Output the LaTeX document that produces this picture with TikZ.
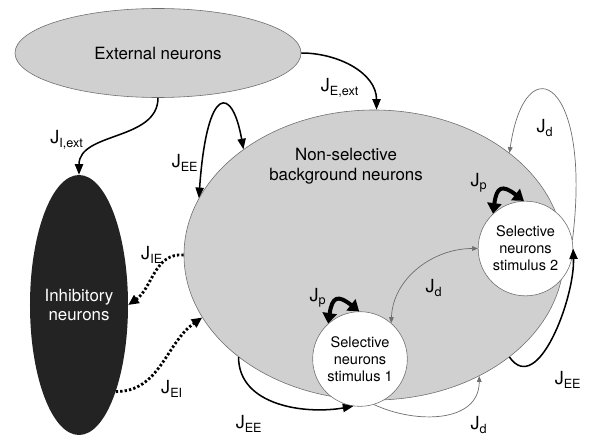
\documentclass[tikz,border=0pt]{standalone}
\usepackage{fontspec}
\setmainfont{TeX Gyre Heros}
\usetikzlibrary{shapes.geometric,arrows.meta}
\definecolor{cellgray}{RGB}{208,208,208}
\definecolor{rimgray}{RGB}{110,110,110}
\definecolor{inhblack}{RGB}{35,35,35}
\newcommand{\J}[1]{J\textsubscript{#1}}

\begin{document}
\begin{tikzpicture}[x=0.03cm, y=0.03cm,
  pop/.style={ellipse, draw=rimgray, fill=cellgray, inner sep=0pt, line width=0.5pt, align=center, font=\fontsize{14.4}{16.5}\selectfont},
  sel/.style={circle, draw=rimgray, fill=white, inner sep=0pt, minimum size=2.84cm, line width=0.5pt, align=center, font=\fontsize{12.4}{14.5}\selectfont},
  link/.style={line width=1.3pt, -{Triangle[length=9pt,width=7pt]}},
  weak/.style={draw=rimgray, line width=0.6pt, -{Triangle[length=5pt,width=4pt]}},
  dots/.style={line width=2.4pt, dash pattern=on 2pt off 1.8pt, -{Triangle[length=9pt,width=8pt]}},
  self/.style={line width=3.4pt, {Triangle[length=9pt,width=12pt]}-{Triangle[length=9pt,width=12pt]}},
  lbl/.style={font=\fontsize{15.4}{17}\selectfont}]
\useasboundingbox (0,0) rectangle (594,435);

% populations
\node[pop, minimum width=8.58cm, minimum height=2.67cm] (ext) at (158,382) {External neurons};
\node[ellipse, fill=inhblack, inner sep=0pt, minimum width=2.94cm, minimum height=7.8cm, align=center,
      text=white, font=\fontsize{14.4}{16.5}\selectfont] (inh) at (79,130) {Inhibitory\\neurons};
\node[pop, minimum width=11.4cm, minimum height=8.7cm] (bg) at (374,180) {};
\node[align=center, font=\fontsize{14.4}{17}\selectfont] (bgtxt) at (346,269) {Non-selective\\background neurons};
\node[sel] (s1) at (360,76) {Selective\\neurons\\stimulus 1};
\node[sel] (s2) at (525.5,186.5) {Selective\\neurons\\stimulus 2};

% external input
\draw[link] (ext.south) to[out=-90, in=90] (inh.north);
\draw[link] (ext.east) to[out=0, in=90] (bg.89);

% excitatory recurrence
\draw[line width=1.3pt, {Triangle[length=9pt,width=7pt]}-{Triangle[length=9pt,width=7pt]}]
  (bg.162) .. controls +(86:115) and +(100:65) .. (bg.141);
\draw[link] (bg.217) to[out=-90, in=190] (s1.262);
\draw[link] (bg.323) to[out=-55, in=-88] (s2.east);

% inhibition
\draw[dots] (bg.west) to[out=175, in=35] (inh.east);
\draw[dots] (inh.293) to[out=0, in=215] (bg.200);

% depression between pools
\draw[weak] (s2.10) .. controls +(20,160) and +(16,110) .. (bg.37);
\draw[weak, {Triangle[length=5pt,width=4pt]}-{Triangle[length=5pt,width=4pt]}] (s1.49) to[out=88, in=180] (s2.west);
\draw[weak] (s1.287) to[out=-25, in=-90, looseness=1.1] (bg.311);

% potentiation
\draw[self] (s2.133) to[bend left=60, looseness=2.1] (s2.92);
\draw[self] (s1.132) to[bend left=60, looseness=2.1] (s1.91);

% labels
\node[lbl] (l1) at (67,295) {\J{I,ext}};
\node[lbl] (l2) at (185,272) {\J{EE}};
\node[lbl] (l3) at (340,347) {\J{E,ext}};
\node[lbl] (l4) at (545,307) {\J{d}};
\node[lbl] (l5) at (479,252) {\J{p}};
\node[lbl] (l6) at (434,147) {\J{d}};
\node[lbl] (l7) at (318,137) {\J{p}};
\node[lbl] (l8) at (152,180) {\J{IE}};
\node[lbl] (l9) at (172,46) {\J{EI}};
\node[lbl] (l10) at (249,11) {\J{EE}};
\node[lbl] (l11) at (568,55) {\J{EE}};
\node[lbl] (l12) at (479,10) {\J{d}};
\end{tikzpicture}
\end{document}
